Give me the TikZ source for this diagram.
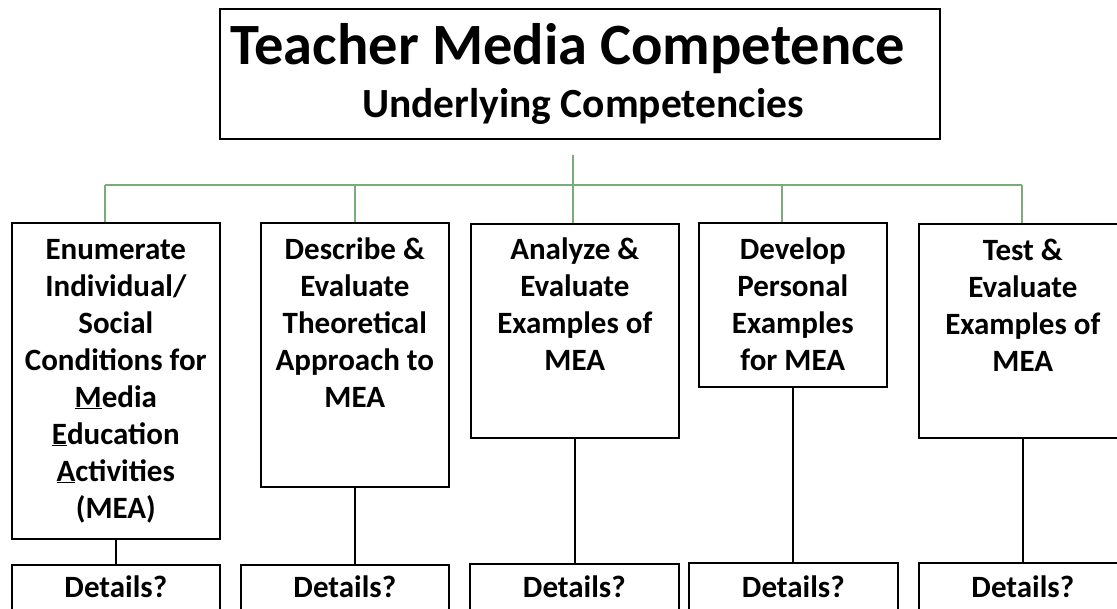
\documentclass[tikz,border=0pt]{standalone}
\usepackage{fontspec}
\setmainfont{Carlito}
\usepackage{xcolor}
\usetikzlibrary{positioning, calc}
\definecolor{busgreen}{RGB}{122,172,122}
\tikzset{x=1pt, y=-1pt,
box/.style={draw, line width=1.6pt, inner sep=0pt, anchor=north west},
boxtext/.style={align=center, inner sep=0pt,
  font=\fontsize{31}{37}\selectfont\bfseries},
bus/.style={draw=busgreen, line width=1.3pt},
link/.style={draw, line width=1.6pt}}

\begin{document}
\begin{tikzpicture}
\clip (0,0) rectangle (1117,609);
% head
\node[box, minimum width=720pt, minimum height=130pt] (top) at (219,8) {};
\node[anchor=base, inner sep=0pt, font=\fontsize{58.5}{60}\selectfont\bfseries]
  (title) at (568,65) {Teacher Media Competence};
\node[anchor=base, inner sep=0pt, font=\fontsize{41.5}{44}\selectfont\bfseries]
  (sub) at (583,118) {Underlying Competencies};
% competencies
\node[box, minimum width=208pt, minimum height=316pt] (enum) at (11,222) {};
\node[box, minimum width=188pt, minimum height=264pt] (desc) at (260,222) {};
\node[box, minimum width=208pt, minimum height=214pt] (anal) at (470,223) {};
\node[box, minimum width=188pt, minimum height=164pt] (devl) at (698,222) {};
\node[box, minimum width=208pt, minimum height=214pt] (test) at (918,223) {};
\node[boxtext, below=11pt of enum.north] (enumt) {\strut Enumerate\\Individual/\\Social\\Conditions for\\
  \underline{M}edia\\\underline{E}ducation\\\underline{A}ctivities\\(MEA)};
\node[boxtext, below=11pt of desc.north] (desct) {\strut Describe \&\\Evaluate\\Theoretical\\Approach to\\MEA};
\node[boxtext, below=10pt of anal.north] (analt) {\strut Analyze \&\\Evaluate\\Examples of\\MEA};
\node[boxtext, below=11pt of devl.north] (devlt) {\strut Develop\\Personal\\Examples\\for MEA};
\node[boxtext, below=11pt of test.north] (testt) {\strut Test \&\\Evaluate\\Examples of\\MEA};
% details
\node[box, minimum width=208pt, minimum height=70pt] (d1) at (11,564) {};
\node[box, minimum width=208pt, minimum height=70pt] (d2) at (240,564) {};
\node[box, minimum width=209pt, minimum height=70pt] (d3) at (469,563) {};
\node[box, minimum width=209pt, minimum height=70pt] (d4) at (688,562) {};
\node[box, minimum width=208pt, minimum height=70pt] (d5) at (918,562) {};
\foreach \d in {d1,d2,d3,d4,d5}
  \node[boxtext, anchor=base] at (\d.north |- 0,597) {Details?};
% connectors
\coordinate (hub) at (573,185);
\draw[bus] (hub |- top.south) ++(0,15) -- (hub);
\draw[bus] (105,185) -- (1022,185);
\foreach \b/\x in {enum/105, desc/355, anal/573, devl/782, test/1022}
  \draw[bus] (\x,185) -- (\x,185 |- \b.north);
\foreach \b/\d in {enum/d1, desc/d2, anal/d3, devl/d4, test/d5}
  \draw[link] (\b.south) -- (\b.south |- \d.north);
\end{tikzpicture}
\end{document}
